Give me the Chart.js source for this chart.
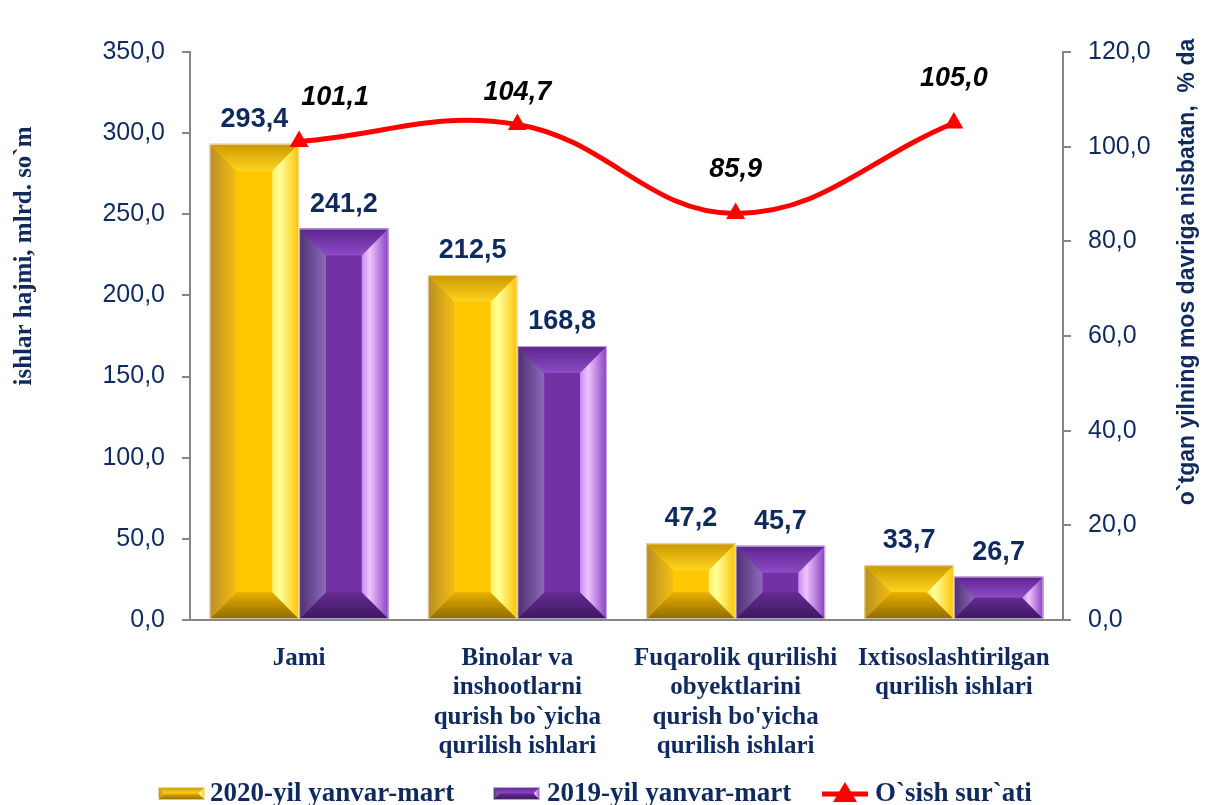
<!DOCTYPE html>
<html>
<head>
<meta charset="utf-8">
<script src="https://cdn.jsdelivr.net/npm/chart.js@4.4.1/dist/chart.umd.min.js"></script>
<style>
  html, body { margin: 0; padding: 0; background: #fff; }
</style>
</head>
<body>
<canvas id="chart" width="1207" height="805"></canvas>
<script>
// data
const categories = [
    ["Jami"],
    ["Binolar va", "inshootlarni", "qurish bo`yicha", "qurilish ishlari"],
    ["Fuqarolik qurilishi", "obyektlarini", "qurish bo'yicha", "qurilish ishlari"],
    ["Ixtisoslashtirilgan", "qurilish ishlari"]
];
const seriesNames = ["2020-yil yanvar-mart", "2019-yil yanvar-mart", "O`sish sur`ati"];
const vol2020 = [293.4, 212.5, 47.2, 33.7];
const vol2019 = [241.2, 168.8, 45.7, 26.7];
const growth = [101.1, 104.7, 85.9, 105.0];
const leftAxisTitle = "ishlar hajmi, mlrd. so`m";
const rightAxisTitle = "o`tgan yilning mos davriga nisbatan,  % da";

const NAVY = "#0F2A5F";
const AXIS = "#868686";
const fmt = v => v.toFixed(1).replace(".", ",");

const palettes = {
    gold: {
        face: "#FFC800",
        top: ["#C99800", "#FFD41F"],
        left: ["#B88E22", "#F4BE14"],
        right: ["#FFF26A", "#FFFF9A", "#FFC200"],
        bottom: ["#E8AE00", "#8E6C00"]
    },
    purple: {
        face: "#7232A6",
        top: ["#5E2490", "#8C4CC6"],
        left: ["#4E2F72", "#8C6ABA"],
        right: ["#C48EF0", "#F0C2FF", "#8840C0"],
        bottom: ["#652A92", "#3C1860"]
    }
};

// bevelled bar, drawn from the element geometry the library gives
function drawBevel(ctx, x0, x1, yTop, yBot, pal) {
    const w = x1 - x0, h = yBot - yTop;
    const b = Math.min(w * 0.3, h / 2);
    let g;
    ctx.save();
    ctx.fillStyle = pal.face;
    ctx.fillRect(x0, yTop, w, h);

    // top
    g = ctx.createLinearGradient(0, yTop, 0, yTop + b);
    g.addColorStop(0, pal.top[0]); g.addColorStop(1, pal.top[1]);
    ctx.fillStyle = g;
    ctx.beginPath();
    ctx.moveTo(x0, yTop); ctx.lineTo(x1, yTop); ctx.lineTo(x1 - b, yTop + b); ctx.lineTo(x0 + b, yTop + b);
    ctx.closePath(); ctx.fill();

    // bottom
    g = ctx.createLinearGradient(0, yBot - b, 0, yBot);
    g.addColorStop(0, pal.bottom[0]); g.addColorStop(1, pal.bottom[1]);
    ctx.fillStyle = g;
    ctx.beginPath();
    ctx.moveTo(x0, yBot); ctx.lineTo(x1, yBot); ctx.lineTo(x1 - b, yBot - b); ctx.lineTo(x0 + b, yBot - b);
    ctx.closePath(); ctx.fill();

    // left
    g = ctx.createLinearGradient(x0, 0, x0 + b, 0);
    g.addColorStop(0, pal.left[0]); g.addColorStop(1, pal.left[1]);
    ctx.fillStyle = g;
    ctx.beginPath();
    ctx.moveTo(x0, yTop); ctx.lineTo(x0 + b, yTop + b); ctx.lineTo(x0 + b, yBot - b); ctx.lineTo(x0, yBot);
    ctx.closePath(); ctx.fill();

    // right
    g = ctx.createLinearGradient(x1 - b, 0, x1, 0);
    g.addColorStop(0, pal.right[0]); g.addColorStop(0.3, pal.right[1]); g.addColorStop(1, pal.right[2]);
    ctx.fillStyle = g;
    ctx.beginPath();
    ctx.moveTo(x1, yTop); ctx.lineTo(x1 - b, yTop + b); ctx.lineTo(x1 - b, yBot - b); ctx.lineTo(x1, yBot);
    ctx.closePath(); ctx.fill();

    ctx.strokeStyle = "rgba(255,255,255,0.6)";
    ctx.lineWidth = 1;
    ctx.strokeRect(x0 + 0.5, yTop + 0.5, w - 1, h - 1);
    ctx.restore();
}

const bevelBars = {
    id: "bevelBars",
    beforeDatasetDraw(chart, args) {
        const ds = chart.data.datasets[args.index];
        if (!ds.bevel) return;
        const ctx = chart.ctx;
        args.meta.data.forEach(el => {
            const p = el.getProps(["x", "y", "base", "width"], true);
            drawBevel(ctx, p.x - p.width / 2, p.x + p.width / 2, p.y, p.base, palettes[ds.bevel]);
        });
        return false;
    }
};

const labelsAndLegend = {
    id: "labelsAndLegend",
    afterDatasetsDraw(chart) {
        const ctx = chart.ctx;
        ctx.save();
        // bar values
        ctx.font = "bold 27px 'Liberation Sans', Arial, sans-serif";
        ctx.fillStyle = NAVY;
        ctx.textAlign = "center";
        ctx.textBaseline = "bottom";
        chart.data.datasets.forEach((ds, i) => {
            if (!ds.bevel) return;
            chart.getDatasetMeta(i).data.forEach((el, j) => {
                ctx.fillText(fmt(ds.data[j]), el.x, el.y - 11);
            });
        });
        // growth values
        ctx.font = "italic bold 27px 'Liberation Sans', Arial, sans-serif";
        ctx.fillStyle = "#000";
        ctx.textBaseline = "middle";
        const lineIdx = chart.data.datasets.findIndex(d => d.type === "line");
        chart.getDatasetMeta(lineIdx).data.forEach((el, j) => {
            const dx = j === 0 ? 36 : 0;
            const dy = j === 1 ? 32 : 44;
            ctx.fillText(fmt(growth[j]), el.x + dx, el.y - dy);
        });
        ctx.restore();
    },
    afterDraw(chart) {
        const ctx = chart.ctx;
        ctx.save();
        // axis titles
        ctx.fillStyle = NAVY;
        ctx.textAlign = "center";
        ctx.textBaseline = "middle";
        ctx.font = "bold 25px 'Liberation Serif', 'Times New Roman', serif";
        ctx.translate(25, 256);
        ctx.rotate(-Math.PI / 2);
        ctx.fillText(leftAxisTitle, 0, 0);
        ctx.setTransform(1, 0, 0, 1, 0, 0);
        ctx.font = "bold 23px 'Liberation Sans', Arial, sans-serif";
        ctx.translate(1188, 272);
        ctx.rotate(-Math.PI / 2);
        ctx.fillText(rightAxisTitle, 0, 0);
        ctx.setTransform(1, 0, 0, 1, 0, 0);

        // legend
        const ly = 794;
        ctx.font = "bold 27px 'Liberation Serif', 'Times New Roman', serif";
        ctx.textAlign = "left";
        drawBevel(ctx, 158, 205, ly - 7, ly + 6, palettes.gold);
        ctx.fillStyle = NAVY;
        ctx.fillText(seriesNames[0], 210, ly);
        drawBevel(ctx, 493, 540, ly - 7, ly + 6, palettes.purple);
        ctx.fillStyle = NAVY;
        ctx.fillText(seriesNames[1], 547, ly);
        ctx.strokeStyle = "#FF0000";
        ctx.lineWidth = 5;
        ctx.beginPath(); ctx.moveTo(822, ly); ctx.lineTo(868, ly); ctx.stroke();
        ctx.fillStyle = "#FF0000";
        ctx.beginPath(); ctx.moveTo(845, ly - 12); ctx.lineTo(857, ly + 8); ctx.lineTo(833, ly + 8); ctx.closePath(); ctx.fill();
        ctx.fillStyle = NAVY;
        ctx.fillText(seriesNames[2], 875, ly);
        ctx.restore();
    }
};

const tickFont = { family: "'Liberation Sans', Arial, sans-serif", size: 25 };

new Chart(document.getElementById("chart"), {
    data: {
        labels: categories,
        datasets: [
            {
                type: "line",
                label: seriesNames[2],
                data: growth,
                yAxisID: "y1",
                order: 0,
                borderColor: "#FF0000",
                backgroundColor: "#FF0000",
                borderWidth: 5,
                tension: 0.4,
                pointStyle: "triangle",
                pointRadius: 11,
                pointBorderWidth: 0,
                clip: false
            },
            {
                type: "bar",
                label: seriesNames[0],
                data: vol2020,
                yAxisID: "y",
                order: 1,
                bevel: "gold",
                backgroundColor: "#FFC800",
                barPercentage: 1.0,
                categoryPercentage: 0.82
            },
            {
                type: "bar",
                label: seriesNames[1],
                data: vol2019,
                yAxisID: "y",
                order: 1,
                bevel: "purple",
                backgroundColor: "#7232A6",
                barPercentage: 1.0,
                categoryPercentage: 0.82
            }
        ]
    },
    options: {
        responsive: false,
        animation: false,
        devicePixelRatio: 1,
        layout: { padding: { top: 52, left: 0, right: 0, bottom: 0 } },
        plugins: {
            legend: { display: false },
            tooltip: { enabled: false }
        },
        scales: {
            x: {
                grid: { display: false, drawTicks: false },
                border: { display: true, color: AXIS, width: 2 },
                ticks: {
                    color: NAVY,
                    padding: 24,
                    maxRotation: 0,
                    autoSkip: false,
                    font: { family: "'Liberation Serif', 'Times New Roman', serif", size: 25, weight: "bold", lineHeight: 1.17 }
                },
                afterFit: axis => { axis.height = 185; }
            },
            y: {
                position: "left",
                min: 0,
                max: 350,
                grid: { drawOnChartArea: false, drawTicks: true, tickLength: 8, color: AXIS, lineWidth: 2 },
                border: { color: AXIS, width: 2 },
                ticks: { stepSize: 50, color: NAVY, padding: 17, font: tickFont, callback: v => fmt(v) },
                afterFit: axis => { axis.width = 190; }
            },
            y1: {
                position: "right",
                min: 0,
                max: 120,
                grid: { drawOnChartArea: false, drawTicks: true, tickLength: 8, color: AXIS, lineWidth: 2 },
                border: { color: AXIS, width: 2 },
                ticks: { stepSize: 20, color: NAVY, padding: 17, font: tickFont, callback: v => fmt(v) },
                afterFit: axis => { axis.width = 144; }
            }
        }
    },
    plugins: [bevelBars, labelsAndLegend]
});
</script>
</body>
</html>
